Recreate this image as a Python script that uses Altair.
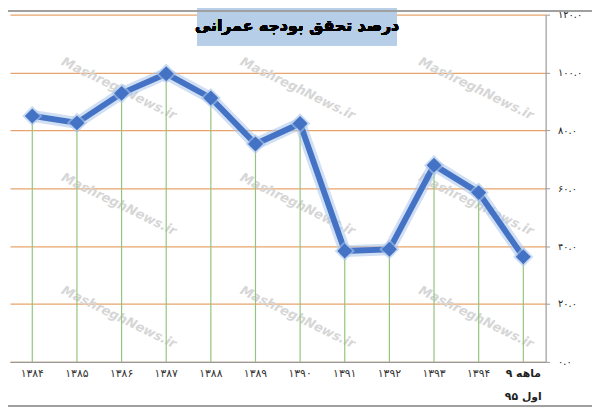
import altair as alt
import pandas as pd

# ---- data ----
categories = ["۱۳۸۴", "۱۳۸۵", "۱۳۸۶", "۱۳۸۷", "۱۳۸۸", "۱۳۸۹", "۱۳۹۰",
              "۱۳۹۱", "۱۳۹۲", "۱۳۹۳", "۱۳۹۴", "۹ ماهه اول ۹۵"]
last_label_lines = ["۹ ماهه", "اول ۹۵"]
values = [85.0, 82.6, 92.8, 99.6, 91.2, 75.3, 82.4, 38.3, 38.9, 68.0, 58.5, 36.3]
y_ticks = [0, 20, 40, 60, 80, 100, 120]
y_tick_labels = ["۰.۰", "۲۰.۰", "۴۰.۰", "۶۰.۰", "۸۰.۰", "۱۰۰.۰", "۱۲۰.۰"]
title_text = "درصد تحقق بودجه عمرانی"
watermark_text = "MashreghNews.ir"
wm_cats = ["۱۳۸۶", "۱۳۹۰", "۱۳۹۴"]
wm_vals = [94, 54, 15]

df = pd.DataFrame({"cat": categories, "val": values})
year_df = pd.DataFrame({"cat": categories[:-1]})
last1_df = pd.DataFrame({"cat": [categories[-1]], "t": [last_label_lines[0]]})
last2_df = pd.DataFrame({"cat": [categories[-1]], "t": [last_label_lines[1]]})
wm_df = pd.DataFrame([{"cat": c, "val": v, "t": watermark_text}
                      for c in wm_cats for v in wm_vals])

FONT = "DejaVu Sans"

label_expr = " : ".join(
    f"datum.value == {v} ? '{l}'" for v, l in zip(y_ticks, y_tick_labels)
) + " : ''"

x_enc = alt.X("cat:N", sort=categories,
              scale=alt.Scale(type="point", padding=0.5),
              axis=alt.Axis(title=None, labels=False, ticks=False, grid=False,
                            domainColor="#9a9a9a", domainWidth=1.2))
y_scale = alt.Scale(domain=[0, 120], nice=False)
y_enc = alt.Y("val:Q", scale=y_scale,
              axis=alt.Axis(title=None, orient="right", values=y_ticks,
                            labelExpr=label_expr, labelFont=FONT,
                            labelFontSize=10, labelColor="#222222",
                            labelPadding=8, tickSize=4, tickColor="#9a9a9a",
                            domainColor="#9a9a9a", domainWidth=1.2,
                            grid=True, gridColor="#e8a46c", gridWidth=1.3))

base = alt.Chart(df)
xs = alt.X("cat:N", sort=categories)

watermark = alt.Chart(wm_df).mark_text(
    font=FONT, fontSize=13, fontWeight="bold", fontStyle="italic",
    color="#d6d6d6", angle=26, dx=-3
).encode(x=xs, y=alt.Y("val:Q", scale=y_scale), text="t:N")

drops = base.mark_rule(color="#93c47d", strokeWidth=1.2).encode(
    x=x_enc, y=y_enc, y2=alt.datum(0))

glow = base.mark_line(color="#a9c4ea", strokeWidth=12, opacity=0.55,
                      strokeJoin="round").encode(x=xs, y="val:Q")
line = base.mark_line(color="#4472c4", strokeWidth=6,
                      strokeJoin="round").encode(x=xs, y="val:Q")
glow_pts = base.mark_point(shape="diamond", filled=True, size=420,
                           color="#a9c4ea", opacity=0.6).encode(x=xs, y="val:Q")
pts = base.mark_point(shape="diamond", filled=True, size=230, opacity=1,
                      color="#4472c4").encode(x=xs, y="val:Q")

year_lbl = alt.Chart(year_df).mark_text(
    font=FONT, fontSize=11, color="#333333", align="center", baseline="middle"
).encode(x=xs, y=alt.value(364), text="cat:N")
last_lbl1 = alt.Chart(last1_df).mark_text(
    font=FONT, fontSize=11, fontWeight="bold", color="#222222",
    align="center", baseline="middle"
).encode(x=xs, y=alt.value(364), text="t:N")
last_lbl2 = alt.Chart(last2_df).mark_text(
    font=FONT, fontSize=11, fontWeight="bold", color="#222222",
    align="center", baseline="middle"
).encode(x=xs, y=alt.value(388), text="t:N")

title_box = base.mark_rect(color="#b7cee8").encode(
    x=alt.value(190), x2=alt.value(392), y=alt.value(-6), y2=alt.value(31))
title = base.mark_text(font=FONT, fontSize=16, fontWeight="bold",
                       color="#000000", baseline="middle", align="center").encode(
    x=alt.value(291), y=alt.value(12), text=alt.value(title_text))

border_top = base.mark_rule(color="#a0a0a0", strokeWidth=1.5).encode(
    x=alt.value(-2), x2=alt.value(590), y=alt.value(-3.5))
border_bottom = base.mark_rule(color="#a0a0a0", strokeWidth=1.5).encode(
    x=alt.value(-2), x2=alt.value(590), y=alt.value(396.5))

chart = alt.layer(
    watermark, drops, glow, line, glow_pts, pts, year_lbl, last_lbl1, last_lbl2,
    title_box, title, border_top, border_bottom
).properties(
    width=543, height=352,
    autosize=alt.AutoSizeParams(type="none"),
    padding={"left": 2, "top": 4, "right": 47, "bottom": 46},
    background="#ffffff"
).configure_view(stroke=None)

chart.save("out.html", embed_options={"renderer": "svg", "actions": False})
